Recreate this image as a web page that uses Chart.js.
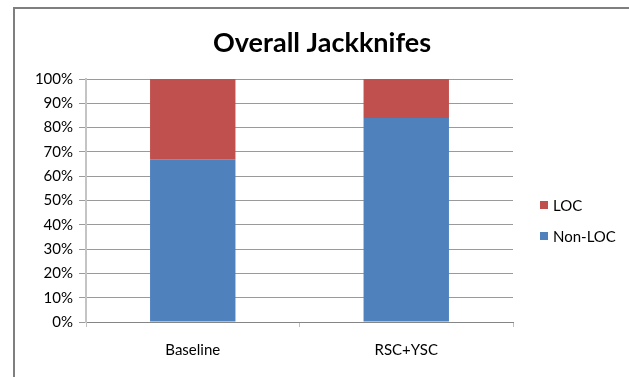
<!DOCTYPE html>
<html>
<head>
<meta charset="utf-8">
<title>Overall Jackknifes</title>
<script src="https://cdn.jsdelivr.net/npm/chart.js@4/dist/chart.umd.min.js"></script>
<style>
	html, body { margin: 0; padding: 0; background: #fff; }
	#wrap { position: relative; width: 629px; height: 377px; }
</style>
</head>
<body>
<div id="wrap"><canvas id="myChart" width="629" height="377"></canvas></div>
<script>
'use strict';

var categories = ['Baseline', 'RSC+YSC'];
var nonLoc = [67, 84];
var loc = [33, 16];
var tickValues = [0, 10, 20, 30, 40, 50, 60, 70, 80, 90, 100];

var FONT = 'Lato, "Open Sans", "Liberation Sans", sans-serif';

// frame, title and legend are painted by hand so they sit where they belong
var decorations = {
	id: 'decorations',
	afterDraw: function (chart) {
		var ctx = chart.ctx;
		ctx.save();

		// outer frame (left + top edges only show)
		ctx.strokeStyle = '#7f7f7f';
		ctx.lineWidth = 2;
		ctx.beginPath();
		ctx.moveTo(14, 377);
		ctx.lineTo(14, 8);
		ctx.lineTo(629, 8);
		ctx.stroke();

		// title
		ctx.fillStyle = '#000';
		ctx.font = 'bold 27px ' + FONT;
		ctx.textAlign = 'center';
		ctx.textBaseline = 'middle';
		ctx.fillText('Overall Jackknifes', 322, 43);

		// legend, top item is the last dataset
		var ds = chart.data.datasets.slice().reverse();
		ctx.font = '15px ' + FONT;
		ctx.textAlign = 'left';
		for (var i = 0; i < ds.length; i++) {
			var y = 205 + i * 31;
			ctx.fillStyle = ds[i].backgroundColor;
			ctx.fillRect(540, y - 4, 8, 8);
			ctx.fillStyle = '#000';
			ctx.fillText(ds[i].label, 553, y + 1);
		}
		ctx.restore();
	}
};

var ctx = document.getElementById('myChart').getContext('2d');
var myChart = new Chart(ctx, {
	type: 'bar',
	data: {
		labels: categories,
		datasets: [
			{ label: 'Non-LOC', data: nonLoc, backgroundColor: '#4f81bd' },
			{ label: 'LOC', data: loc, backgroundColor: '#c0504d' }
		]
	},
	options: {
		responsive: false,
		animation: false,
		devicePixelRatio: 1,
		layout: { padding: { top: 79, right: 116, bottom: 0, left: 0 } },
		datasets: { bar: { categoryPercentage: 1, barPercentage: 0.4 } },
		plugins: {
			legend: { display: false },
			title: { display: false },
			tooltip: { enabled: false }
		},
		scales: {
			x: {
				stacked: true,
				afterFit: function (scale) { scale.height = 55; },
				grid: {
					offset: true,
					drawOnChartArea: false,
					drawTicks: true,
					tickLength: 5,
					color: '#bfbfbf'
				},
				border: { color: '#868686', width: 1 },
				ticks: {
					padding: 14,
					color: '#000',
					font: { family: FONT, size: 15 }
				}
			},
			y: {
				stacked: true,
				min: 0,
				max: 100,
				afterFit: function (scale) { scale.width = 86; },
				afterBuildTicks: function (scale) {
					scale.ticks = tickValues.map(function (v) { return { value: v }; });
				},
				grid: {
					color: '#9a9a9a',
					tickLength: 7
				},
				border: { color: '#c4c4c4', width: 2 },
				ticks: {
					padding: 6,
					color: '#000',
					font: { family: FONT, size: 15 },
					callback: function (v) { return v + '%'; }
				}
			}
		}
	},
	plugins: [decorations]
});
</script>
</body>
</html>
